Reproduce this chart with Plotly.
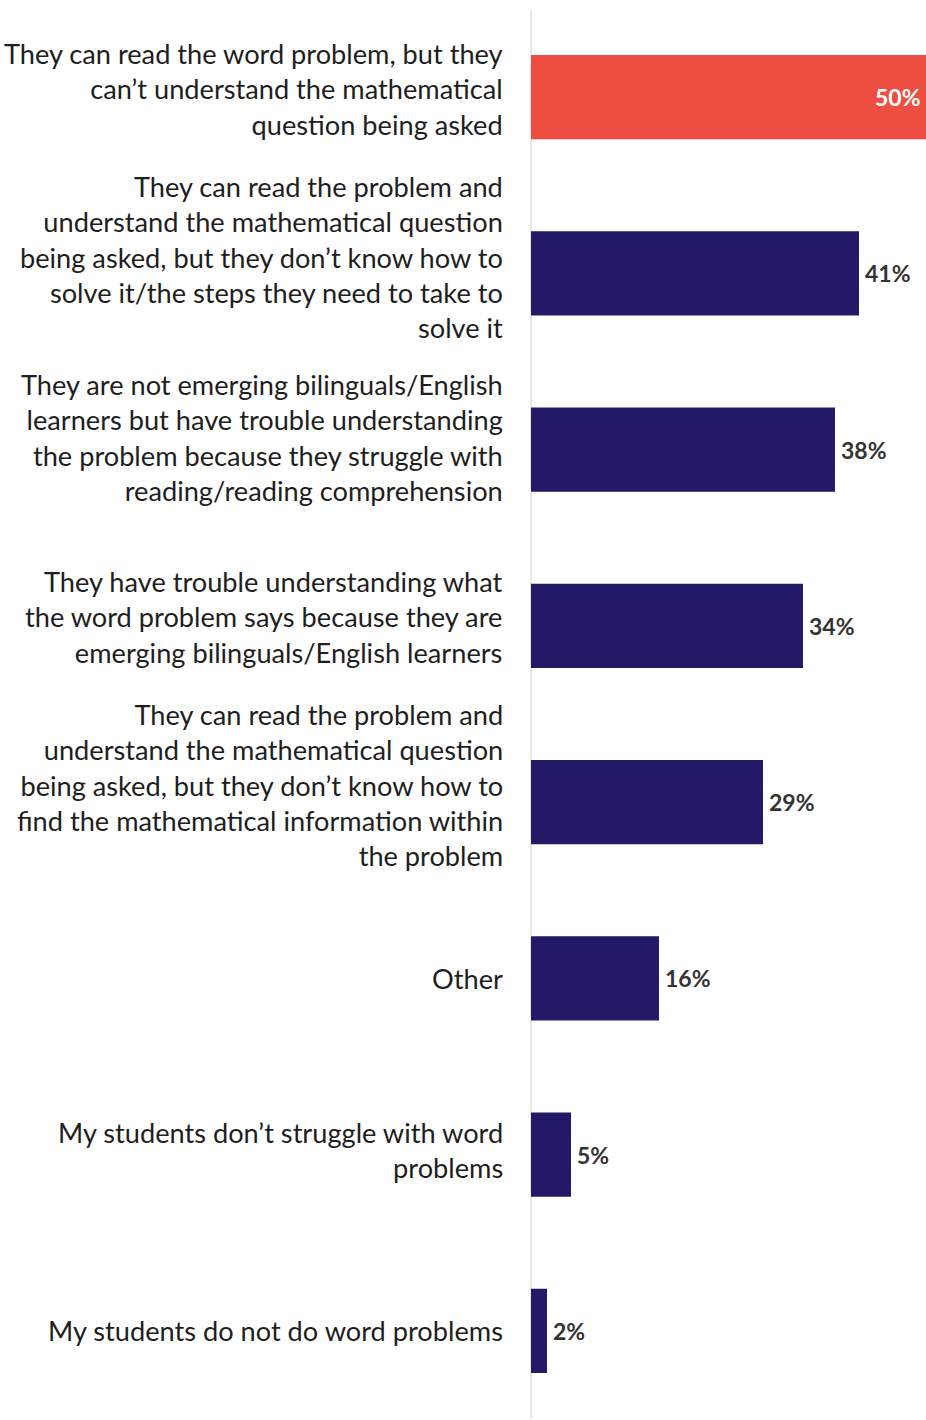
import plotly.graph_objects as go

categories = [
    "They can read the word problem, but they<br>can’t understand the mathematical<br>question being asked",
    "They can read the problem and<br>understand the mathematical question<br>being asked, but they don’t know how to<br>solve it/the steps they need to take to<br>solve it",
    "They are not emerging bilinguals/English<br>learners but have trouble understanding<br>the problem because they struggle with<br>reading/reading comprehension",
    "They have trouble understanding what<br>the word problem says because they are<br>emerging bilinguals/English learners",
    "They can read the problem and<br>understand the mathematical question<br>being asked, but they don’t know how to<br>find the mathematical information within<br>the problem",
    "Other",
    "My students don’t struggle with word<br>problems",
    "My students do not do word problems",
]
values = [50, 41, 38, 34, 29, 16, 5, 2]
value_labels = [f"{v}%" for v in values]

X_MAX = 49.375  # visible part of the value axis (the top bar runs off the edge)

RED = "#EE4E42"
NAVY = "#221A66"
colors = [RED] + [NAVY] * (len(values) - 1)

fig = go.Figure(
    go.Bar(
        x=values,
        y=categories,
        orientation="h",
        marker=dict(color=colors, line=dict(width=0)),
        width=0.477,
        textposition="none",
    )
)

annotations = []
top = max(values)
for cat, v, lab in zip(categories, values, value_labels):
    n_lines = cat.count("<br>") + 1
    annotations.append(dict(
        x=0, y=cat, xref="x", yref="y",
        text=cat, showarrow=False, align="right",
        xanchor="right", yanchor="middle",
        xshift=-26, yshift=4.2 * (n_lines - 1),
        font=dict(family="Lato", size=27.2, color="#1E1E1E"),
    ))
    if v == top:
        annotations.append(dict(
            x=min(v, X_MAX * 0.99999), y=cat, xref="x", yref="y", text=lab,
            showarrow=False, xanchor="right", yanchor="middle", xshift=-3,
            font=dict(family="Lato", size=23, color="#FFFFFF", weight=700),
        ))
    else:
        annotations.append(dict(
            x=v, y=cat, xref="x", yref="y", text=lab, showarrow=False,
            xanchor="left", yanchor="middle", xshift=4,
            font=dict(family="Lato", size=23, color="#333333", weight=700),
        ))

fig.update_layout(
    width=926,
    height=1420,
    margin=dict(l=531, r=0, t=9, b=1),
    paper_bgcolor="white",
    plot_bgcolor="white",
    showlegend=False,
    font=dict(family="Lato", color="#222222"),
    annotations=annotations,
)
fig.update_xaxes(
    range=[0, X_MAX],
    showgrid=False,
    showticklabels=False,
    zeroline=True,
    zerolinecolor="#E8E8E8",
    zerolinewidth=2,
)
fig.update_yaxes(
    autorange="reversed",
    showgrid=False,
    ticks="",
    showticklabels=False,
    automargin=False,
)

fig.write_html("out.html")
